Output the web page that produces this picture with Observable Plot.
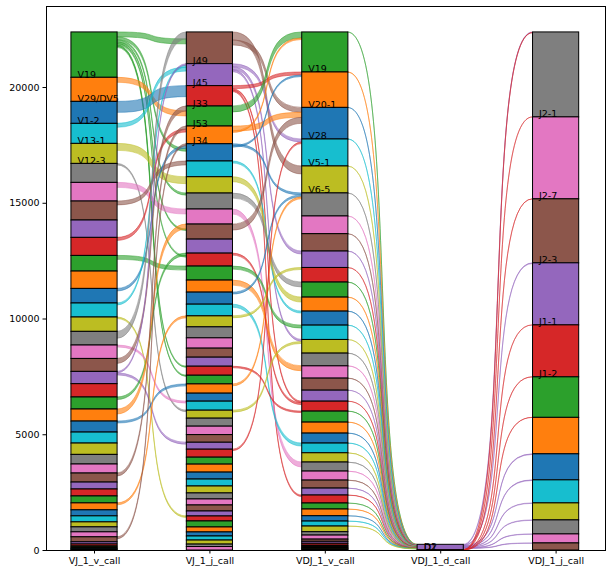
<!DOCTYPE html>
<html>
<head>
<meta charset="utf-8">
<script src="https://cdn.jsdelivr.net/npm/d3@7"></script>
<script src="https://cdn.jsdelivr.net/npm/@observablehq/plot@0.6"></script>
<style>
  html, body { margin: 0; padding: 0; background: #fff; }
  #chart svg { display: block; }
</style>
</head>
<body>
<div id="chart"></div>
<script>
// ---------- data ----------
const columns = ["VJ_1_v_call", "VJ_1_j_call", "VDJ_1_v_call", "VDJ_1_d_call", "VDJ_1_j_call"];

// segment sizes per column, top to bottom
const vjV = [1960, 1040, 950, 865, 865, 820, 805, 820, 750, 780, 675, 750, 630, 605, 620, 590, 580, 560, 530, 575,
             520, 520, 475, 475, 490, 415, 390, 390, 300, 300, 300, 300, 260, 260, 215, 215, 215, 215, 95, 85,
             50, 45, 30, 25, 25];
const vjJ = [1370, 950, 880, 865, 765, 745, 680, 705, 690, 650, 650, 605, 560, 605, 520, 520, 505, 475, 475, 445,
             390, 390, 390, 375, 400, 345, 390, 345, 345, 365, 330, 300, 345, 300, 345, 300, 300, 300, 260, 260,
             260, 215, 215, 260, 215, 175, 175, 175, 105, 150];
const vdjV = [1730, 1530, 1365, 1165, 1165, 995, 765, 750, 710, 630, 650, 605, 605, 620, 590, 550, 530, 520, 475, 430,
              475, 475, 430, 420, 400, 390, 390, 345, 300, 345, 260, 290, 230, 215, 245, 145, 175, 95, 85, 85,
              45, 45, 35, 30, 20, 30];
const vdjD = [234, 12];
const vdjJ = [3670, 3540, 2765, 2680, 2245, 1750, 1575, 1125, 995, 735, 605, 390, 305];

// labels (top segments)
const vjVLabels = ["V19", "V29/DV5", "V1-2", "V13-1", "V12-3"];
const vjJLabels = ["J49", "J45", "J33", "J53", "J34"];
const vdjVLabels = ["V19", "V20-1", "V28", "V5-1", "V6-5"];
const vdjDLabels = ["D2", "D1"];
const vdjJLabels = ["J2-1", "J2-7", "J2-3", "J1-1", "J1-2"];

// flows: [source segment, target segment, count]
const flowsVjVJ = [
  [0, 0, 215], [0, 5, 130], [0, 8, 90], [0, 10, 65], [0, 12, 65], [0, 22, 50], [0, 23, 50],
  [1, 3, 215], [2, 2, 475], [3, 1, 170], [4, 7, 300], [5, 27, 65], [6, 9, 215], [7, 6, 170],
  [9, 4, 130], [10, 13, 170], [12, 5, 110], [13, 1, 85], [14, 42, 65], [15, 0, 300],
  [16, 26, 85], [17, 3, 215], [18, 1, 65], [18, 31, 85], [20, 12, 110], [21, 10, 215],
  [22, 24, 85], [27, 4, 130], [31, 17, 85], [37, 5, 85]
];
const flowsVjJVdjV = [
  [0, 4, 345], [0, 2, 215], [1, 3, 130], [1, 8, 130], [1, 14, 85], [2, 1, 130], [2, 19, 65], [2, 29, 65],
  [3, 0, 260], [4, 2, 215], [4, 0, 65], [5, 5, 85], [5, 1, 65], [6, 12, 85], [7, 11, 215], [8, 10, 215],
  [9, 25, 215], [10, 2, 260], [12, 19, 85], [13, 13, 130], [14, 16, 215], [15, 5, 85], [16, 23, 130],
  [17, 9, 85], [22, 20, 65], [24, 5, 85], [27, 14, 85], [32, 3, 65]
];
const flowsVdjVD = [
  [0, 0, 8], [1, 0, 8], [2, 0, 7], [3, 0, 7], [4, 0, 7], [5, 0, 6], [6, 0, 6], [7, 0, 6], [8, 0, 6],
  [9, 0, 6], [10, 0, 6], [11, 0, 6], [12, 0, 6], [13, 0, 6], [14, 0, 6], [15, 0, 6], [16, 0, 6],
  [17, 0, 6], [18, 0, 5], [19, 0, 5], [20, 0, 5], [21, 0, 5], [22, 0, 5], [23, 0, 5], [24, 0, 5],
  [25, 0, 5], [26, 0, 5], [27, 0, 5], [28, 0, 5], [29, 0, 5], [30, 0, 5], [31, 0, 5], [32, 0, 5],
  [33, 0, 5], [34, 0, 5]
];
const flowsDJ = [
  [0, 0, 30], [0, 3, 30], [0, 7, 25], [0, 8, 25], [0, 9, 20], [0, 10, 20], [0, 11, 15], [0, 12, 15],
  [1, 0, 2], [1, 1, 2], [1, 2, 2], [1, 4, 2], [1, 5, 2], [1, 6, 2]
];

// ---------- layout ----------
const tab10 = ["#1f77b4", "#ff7f0e", "#2ca02c", "#d62728", "#9467bd", "#8c564b", "#e377c2", "#7f7f7f", "#bcbd22", "#17becf"];
const colorStart = [2, 5, 2, 4, 7];
const columnValues = [vjV, vjJ, vdjV, vdjD, vdjJ];
const columnLabels = [vjVLabels, vjJLabels, vdjVLabels, vdjDLabels, vdjJLabels];
const half = 0.2;

// steeper S-shaped curve (cubic Bezier with horizontal tangents)
class Sigmoid {
  constructor(context, k) { this._context = context; this._k = k; }
  areaStart() { this._line = 0; }
  areaEnd() { this._line = NaN; }
  lineStart() { this._point = 0; }
  lineEnd() {
    if (this._line || (this._line !== 0 && this._point === 1)) this._context.closePath();
    this._line = 1 - this._line;
  }
  point(x, y) {
    x = +x; y = +y;
    if (this._point === 0) {
      this._point = 1;
      if (this._line) this._context.lineTo(x, y); else this._context.moveTo(x, y);
    } else {
      const dx = x - this._x0;
      this._context.bezierCurveTo(this._x0 + dx * this._k, this._y0, x - dx * this._k, y, x, y);
    }
    this._x0 = x; this._y0 = y;
  }
}
const sigmoidCurve = context => new Sigmoid(context, 0.72);

const segs = columnValues.map((vals, c) => {
  let top = d3.sum(vals);
  return vals.map((v, i) => {
    const s = {col: c, i, top, bottom: top - v, label: columnLabels[c][i] || null,
               color: tab10[(((colorStart[c] - i) % 10) + 10) % 10]};
    top -= v;
    return s;
  });
});
const allSegs = segs.flat();

const gaps = [flowsVjVJ, flowsVjJVdjV, flowsVdjVD, flowsDJ];
const arrivalDesc = [true, false, false, false];
const pts = [];
let fid = 0;
gaps.forEach((flows, g) => {
  const outOff = new Map(), inOff = new Map();
  const srcPos = flows.map(([s, t, v]) => {
    const o = outOff.get(s) || 0; outOff.set(s, o + v); return segs[g][s].top - o;
  });
  const order = d3.range(flows.length).sort((a, b) =>
    arrivalDesc[g] ? flows[b][0] - flows[a][0] : flows[a][0] - flows[b][0]);
  const tgtPos = new Array(flows.length);
  order.forEach(k => {
    const [s, t, v] = flows[k];
    const o = inOff.get(t) || 0; inOff.set(t, o + v); tgtPos[k] = segs[g + 1][t].top - o;
  });
  flows.forEach(([s, t, v], k) => {
    const color = segs[g][s].color;
    pts.push({id: fid, x: g + half, y2: srcPos[k], y1: srcPos[k] - v, color});
    pts.push({id: fid, x: g + 1 - half, y2: tgtPos[k], y1: tgtPos[k] - v, color});
    fid++;
  });
});

const chart = Plot.plot({
  width: 610,
  height: 575,
  marginLeft: 46,
  marginRight: 5,
  marginTop: 6,
  marginBottom: 25,
  x: {domain: [-0.416, 4.428]},
  y: {domain: [0, 23500]},
  style: {fontFamily: "DejaVu Sans", fontSize: "9.5px", background: "#fff", color: "#000"},
  marks: [
    Plot.areaY(pts, {x: "x", y1: "y1", y2: "y2", z: "id", fill: "color", fillOpacity: 0.6,
                     stroke: "color", strokeOpacity: 0.55, strokeWidth: 0.9, curve: sigmoidCurve}),
    Plot.rect(allSegs, {x1: d => d.col - half, x2: d => d.col + half, y1: "bottom", y2: "top",
                        fill: "color", stroke: "#000", strokeWidth: 1}),
    Plot.text(allSegs.filter(d => d.label), {x: d => d.col - half, y: "bottom", text: "label",
                        textAnchor: "start", lineAnchor: "bottom", dx: 6, fontSize: 9.5, fill: "#000"}),
    Plot.axisY({ticks: [0, 5000, 10000, 15000, 20000], tickFormat: d3.format("d"), tickSize: 3.5,
                tickPadding: 3.5, label: null}),
    Plot.axisX({ticks: [0, 1, 2, 3, 4], tickFormat: i => columns[i], tickSize: 3.5, tickPadding: 3.5,
                label: null}),
    Plot.frame({stroke: "#000", strokeWidth: 1})
  ]
});
document.getElementById("chart").appendChild(chart);
</script>
</body>
</html>
